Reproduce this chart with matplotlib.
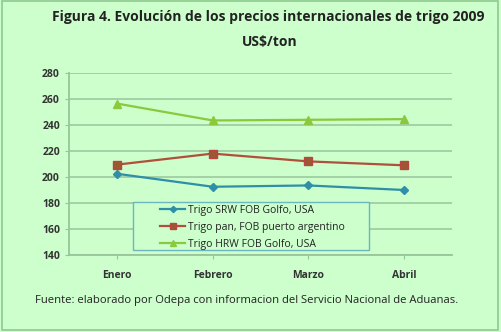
import matplotlib.pyplot as plt
from matplotlib.patches import Rectangle

meses = ['Enero', 'Febrero', 'Marzo', 'Abril']
srw = [202.5, 192.5, 193.5, 190.0]
pan = [209.5, 218.0, 212.0, 209.0]
hrw = [256.5, 243.5, 244.0, 244.5]
yticks = [140, 160, 180, 200, 220, 240, 260, 280]

bg = '#CCFFCC'
grid_col = '#98C49A'

plt.rcParams['font.family'] = ['Open Sans', 'DejaVu Sans']

fig = plt.figure(figsize=(5.01, 3.32), dpi=100, facecolor=bg)
fig.patches.append(Rectangle((0.004, 0.006), 0.99, 0.99, transform=fig.transFigure,
                             fill=False, edgecolor='#8FC98F', linewidth=1.2))

ax = fig.add_axes([69 / 501, 1 - 255 / 332, (452 - 69) / 501, (255 - 73) / 332])
ax.set_facecolor(bg)

x = range(len(meses))
ax.plot(x, srw, color='#2E8FA6', marker='D', markersize=4, linewidth=1.6,
        markeredgecolor='#2E8FA6', label='Trigo SRW FOB Golfo, USA')
ax.plot(x, pan, color='#B0503A', marker='s', markersize=6, linewidth=1.6,
        markerfacecolor='#9A5A2C', markeredgecolor='#C0404A', label='Trigo pan, FOB puerto argentino')
ax.plot(x, hrw, color='#8CC83C', marker='^', markersize=6, linewidth=1.6,
        markeredgecolor='#8CC83C', label='Trigo HRW FOB Golfo, USA')

ax.set_xlim(-0.5, 3.5)
ax.set_ylim(140, 280)
ax.set_yticks(yticks)
ax.set_xticks(list(x))
ax.set_xticklabels(meses)
ax.yaxis.grid(True, color=grid_col, linewidth=1.1)
ax.set_axisbelow(True)
for s in ['top', 'right']:
    ax.spines[s].set_visible(False)
for s in ['left', 'bottom']:
    ax.spines[s].set_color(grid_col)
    ax.spines[s].set_linewidth(1.3)
ax.tick_params(axis='both', colors=grid_col, labelcolor='#333333', labelsize=7.5, length=3)
ax.tick_params(axis='x', pad=8)
for lbl in ax.get_xticklabels() + ax.get_yticklabels():
    lbl.set_fontweight('bold')

# legend frame drawn separately (wide box in the reference)
fig.patches.append(Rectangle((133 / 501, 1 - 250 / 332), (369 - 133) / 501, 48 / 332,
                             transform=fig.transFigure, facecolor=bg, edgecolor='#6FB5C0',
                             linewidth=1.0, zorder=3))
leg = fig.legend(*ax.get_legend_handles_labels(), loc='upper left',
                 bbox_to_anchor=(157 / 501, 1 - 202 / 332), frameon=False,
                 fontsize=7.5, handlelength=2.4, handletextpad=0.25, markerscale=0.8,
                 borderpad=0.3, labelspacing=0.55, borderaxespad=0)
leg.set_zorder(4)
for t in leg.get_texts():
    t.set_color('#222222')

fig.text(268 / 501, 1 - 17 / 332, 'Figura 4. Evolución de los precios internacionales de trigo 2009',
         ha='center', va='center', fontsize=10, fontweight='bold', color='#222222')
fig.text(270 / 501, 1 - 42 / 332, 'US$/ton', ha='center', va='center',
         fontsize=10, fontweight='bold', color='#222222')
fig.text(247 / 501, 1 - 301 / 332,
         'Fuente: elaborado por Odepa con informacion del Servicio Nacional de Aduanas.',
         ha='center', va='center', fontsize=8.1, color='#222222')

fig.savefig('out.png', dpi=100, facecolor=bg)
